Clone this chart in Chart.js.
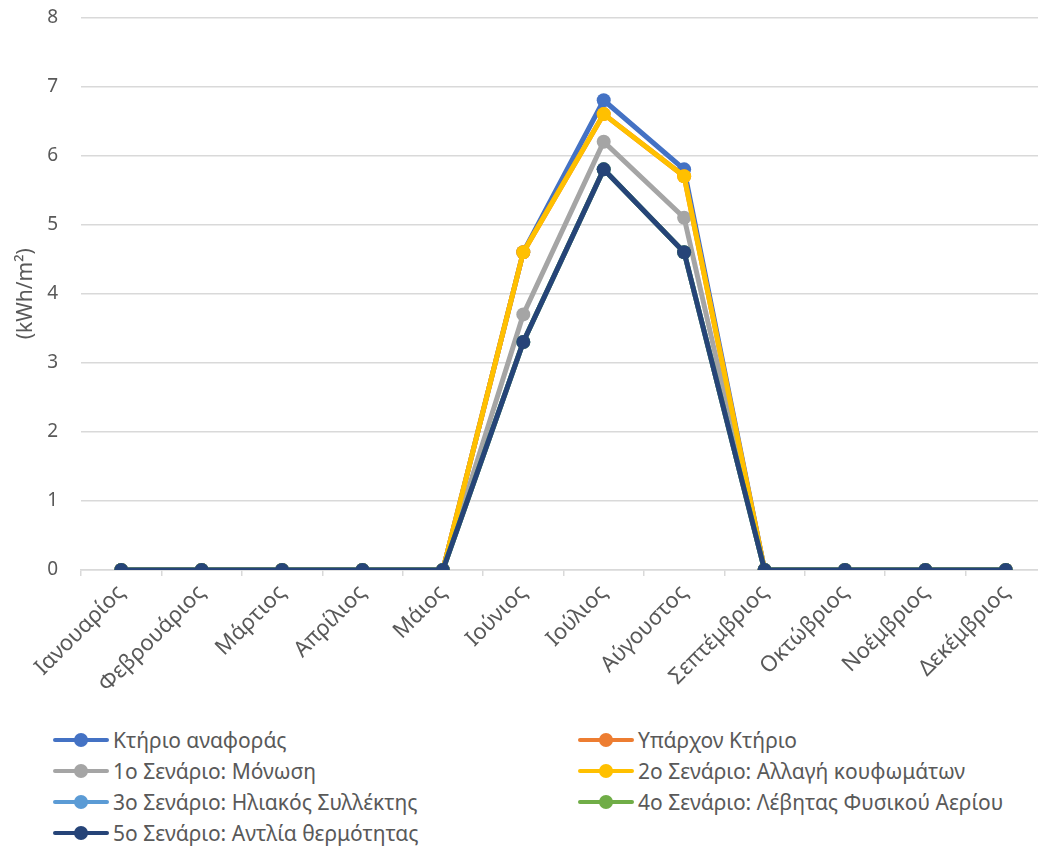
<!DOCTYPE html>
<html lang="el">
<head>
<meta charset="UTF-8">
<title>Κατανάλωση ψύξης ανά μήνα</title>
<script src="https://cdn.jsdelivr.net/npm/chart.js"></script>
<style>
  html, body { margin: 0; padding: 0; background: #fff; overflow: hidden; width: 1038px; height: 847px; }
  #wrap { position: absolute; left: 0; top: -17px; width: 1046px; height: 737px; }
  #legend { position: absolute; left: 53px; top: 724px; width: 985px;
            display: grid; grid-template-columns: 525px 460px; row-gap: 0;
            font-family: "Noto Sans", sans-serif; font-size: 21px; color: #595959; }
  .item { display: flex; align-items: center; height: 31px; white-space: nowrap; }
  .mark { position: relative; width: 56px; height: 14px; margin-right: 4px; flex: none; }
  .mark .ln { position: absolute; left: 0; right: 0; top: 5px; height: 4px; border-radius: 2px; }
  .mark .dot { position: absolute; left: 21px; top: 0; width: 14px; height: 14px; border-radius: 50%; }
</style>
</head>
<body>
<div id="wrap"><canvas id="chart" width="1046" height="737"></canvas></div>
<div id="legend"></div>

<script>
  // μήνες
  var months = ['Ιανουαρίος', 'Φεβρουάριος', 'Μάρτιος', 'Απρίλιος', 'Μάιος', 'Ιούνιος',
                'Ιούλιος', 'Αύγουστος', 'Σεπτέμβριος', 'Οκτώβριος', 'Νοέμβριος', 'Δεκέμβριος'];

  // kWh/m² ανά σενάριο
  var ktirioAnaforas = [0, 0, 0, 0, 0, 4.6, 6.8, 5.8, 0, 0, 0, 0];
  var yparxonKtirio  = [0, 0, 0, 0, 0, 4.6, 6.6, 5.7, 0, 0, 0, 0];
  var senario1       = [0, 0, 0, 0, 0, 3.7, 6.2, 5.1, 0, 0, 0, 0];
  var senario2       = [0, 0, 0, 0, 0, 4.6, 6.6, 5.7, 0, 0, 0, 0];
  var senario3       = [0, 0, 0, 0, 0, 3.3, 5.8, 4.6, 0, 0, 0, 0];
  var senario4       = [0, 0, 0, 0, 0, 3.3, 5.8, 4.6, 0, 0, 0, 0];
  var senario5       = [0, 0, 0, 0, 0, 3.3, 5.8, 4.6, 0, 0, 0, 0];

  var yTicks = [0, 1, 2, 3, 4, 5, 6, 7, 8];

  var series = [
    { label: 'Κτήριο αναφοράς', data: ktirioAnaforas, color: '#4472C4' },
    { label: 'Υπάρχον Κτήριο', data: yparxonKtirio, color: '#ED7D31' },
    { label: '1ο Σενάριο: Μόνωση', data: senario1, color: '#A5A5A5' },
    { label: '2ο Σενάριο: Αλλαγή κουφωμάτων', data: senario2, color: '#FFC000' },
    { label: '3ο Σενάριο: Ηλιακός Συλλέκτης', data: senario3, color: '#5B9BD5' },
    { label: '4ο Σενάριο: Λέβητας Φυσικού Αερίου', data: senario4, color: '#70AD47' },
    { label: '5ο Σενάριο: Αντλία θερμότητας', data: senario5, color: '#264478' }
  ];

  var font = '"Noto Sans", sans-serif';
  var textColor = '#595959';
  var gridColor = '#D9D9D9';

  var datasets = series.map(function(s, i) {
    return {
      label: s.label,
      data: s.data,
      borderColor: s.color,
      backgroundColor: s.color,
      borderWidth: 5,
      pointRadius: 7,
      pointHoverRadius: 7,
      pointBorderWidth: 0,
      tension: 0,
      order: series.length - i // η τελευταία σειρά σχεδιάζεται από πάνω
    };
  });

  var ctx = document.getElementById('chart').getContext('2d');
  var chart = new Chart(ctx, {
    type: 'line',
    data: { labels: months, datasets: datasets },
    options: {
      responsive: false,
      animation: false,
      layout: { padding: { top: 0, left: 0, right: 0, bottom: 0 }, autoPadding: false },
      plugins: {
        legend: { display: false },
        tooltip: { enabled: false }
      },
      scales: {
        x: {
          offset: true,
          grid: { offset: true, drawOnChartArea: false, drawTicks: true, tickLength: 6,
                  color: gridColor, lineWidth: 1.5 },
          border: { display: true, color: gridColor, width: 1.5 },
          ticks: { autoSkip: false, maxRotation: 45, minRotation: 45, padding: 4,
                   color: textColor, font: { family: font, size: 22 } },
          afterFit: function(scale) { scale.height = 150; }
        },
        y: {
          min: 0,
          max: 8,
          afterBuildTicks: function(scale) {
            scale.ticks = yTicks.map(function(v) { return { value: v }; });
          },
          grid: { color: gridColor, lineWidth: 1.5, drawTicks: false },
          border: { display: false },
          ticks: { padding: 23, color: textColor, font: { family: font, size: 19 } },
          title: { display: true, text: '(kWh/m²)', color: textColor,
                   font: { family: font, size: 21 }, padding: { top: 13, bottom: 0 } },
          afterFit: function(scale) { scale.width = 81; }
        }
      }
    }
  });

  // υπόμνημα σε δύο στήλες
  var legend = document.getElementById('legend');
  series.forEach(function(s) {
    var item = document.createElement('div');
    item.className = 'item';
    item.innerHTML = '<span class="mark"><span class="ln" style="background:' + s.color + '"></span>' +
                     '<span class="dot" style="background:' + s.color + '"></span></span>';
    var txt = document.createElement('span');
    txt.textContent = s.label;
    item.appendChild(txt);
    legend.appendChild(item);
  });
</script>
</body>
</html>
